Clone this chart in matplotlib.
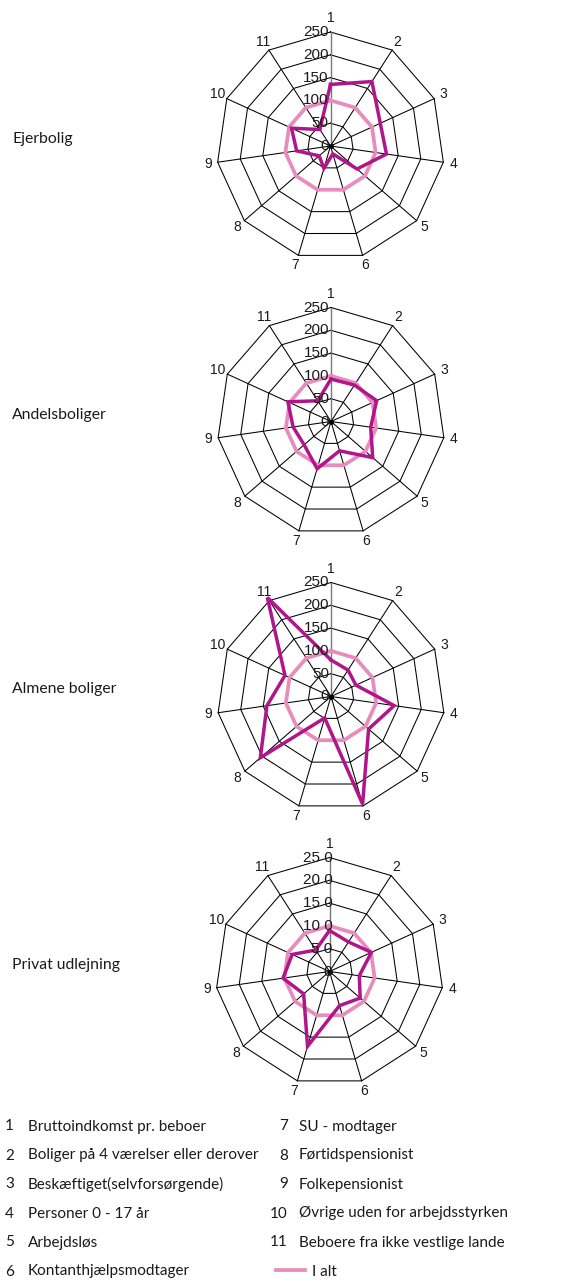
import numpy as np
import matplotlib
matplotlib.use("Agg")
import matplotlib.pyplot as plt
from matplotlib.lines import Line2D

# ---------------- data ----------------
axis_labels = ["1", "2", "3", "4", "5", "6", "7", "8", "9", "10", "11"]
housing_types = ["Ejerbolig", "Andelsboliger", "Almene boliger", "Privat udlejning"]

ejerbolig      = [135, 168, 120, 124, 77, 18, 51, 33, 75, 94, 43]
andelsboliger  = [93, 95, 110, 88, 121, 67, 108, 78, 84, 104, 54]
almene         = [80, 69, 60, 140, 109, 246, 49, 205, 142, 111, 258]
privat         = [90, 77, 101, 66, 89, 78, 171, 75, 103, 90, 56]
i_alt          = [100] * 11

series = [ejerbolig, andelsboliger, almene, privat]

rticks = [0, 50, 100, 150, 200, 250]
rtick_labels_std = ["0", "50", "100", "150", "200", "250"]
rtick_labels_alt = ["0", "5 0", "10 0", "15 0", "20 0", "25 0"]

legend_left = [("1", "Bruttoindkomst pr. beboer"),
               ("2", "Boliger på 4 værelser eller derover"),
               ("3", "Beskæftiget(selvforsørgende)"),
               ("4", "Personer 0 - 17 år"),
               ("5", "Arbejdsløs"),
               ("6", "Kontanthjælpsmodtager")]
legend_right = [("7", "SU - modtager"),
                ("8", "Førtidspensionist"),
                ("9", "Folkepensionist"),
                ("10", "Øvrige uden for arbejdsstyrken"),
                ("11", "Beboere fra ikke vestlige lande")]
total_label = "I alt"

# ---------------- style ----------------
W, H = 568, 1280
MAGENTA = "#B0168A"
PINK = "#E68DBE"
NUMFONT = ["Liberation Sans", "DejaVu Sans"]
TXTFONT = ["Lato", "DejaVu Sans"]
TXTSIZE = 11

fig = plt.figure(figsize=(W / 100, H / 100), dpi=100)

R_PX = 114.0
centers = [(330.5, 146.0), (331.0, 421.5), (331.0, 696.5), (329.5, 971.5)]

n = len(axis_labels)
theta = np.linspace(0, 2 * np.pi, n, endpoint=False)
theta_c = np.append(theta, theta[0])

for idx, (cx, cy) in enumerate(centers):
    ax = fig.add_axes([(cx - R_PX) / W, 1 - (cy + R_PX) / H, 2 * R_PX / W, 2 * R_PX / H],
                      projection="polar")
    ax.set_theta_zero_location("N")
    ax.set_theta_direction(-1)
    ax.set_ylim(0, 250)
    ax.grid(False)
    ax.set_xticks([])
    ax.set_yticks([])
    ax.spines["polar"].set_visible(False)
    ax.patch.set_alpha(0)

    # polygon grid
    for r in rticks[1:]:
        ax.plot(theta_c, [r] * (n + 1), color="black", lw=0.75, zorder=1, clip_on=False)
    for k, t in enumerate(theta):
        ax.plot([t, t], [0, 250], color="#777777" if k == 0 else "black",
                lw=1.0 if k == 0 else 0.75, zorder=1, clip_on=False)

    # data
    ax.plot(theta_c, i_alt + [i_alt[0]], color=PINK, lw=2.7, zorder=3,
            solid_joinstyle="miter", clip_on=False)
    vals = series[idx]
    ax.plot(theta_c, vals + [vals[0]], color=MAGENTA, lw=2.5, zorder=4,
            solid_joinstyle="miter", clip_on=False)
    ax.plot([0], [0], marker="o", ms=2.5, color="black", zorder=5)

    # axis numbers
    for k, t in enumerate(theta):
        rr = 280 if k == 0 else 272
        ax.text(t, rr, axis_labels[k], ha="center", va="center", fontsize=10,
                family=NUMFONT, color="#1a1a1a", clip_on=False)

    # radial tick labels
    labs = rtick_labels_alt if idx == 3 else rtick_labels_std
    dx = 2 if idx == 3 else -1.5
    for r, lab in zip(rticks, labs):
        ax.annotate(lab, xy=(0, r), xytext=(dx, 0), textcoords="offset points",
                    ha="right", va="center", fontsize=11, family=NUMFONT,
                    color="#1a1a1a", zorder=6, annotation_clip=False)

    # housing type label
    fig.text(12 / W, 1 - (cy - 7) / H, housing_types[idx], ha="left", va="center",
             fontsize=11.3, family=TXTFONT, color="#1a1a1a")

# ---------------- legend ----------------
row_y = [1126.5, 1155.5, 1184.5, 1213.5, 1242.5, 1271.5]
for (num, txt), y in zip(legend_left, row_y):
    fig.text(14 / W, 1 - y / H, num, ha="right", va="center", fontsize=TXTSIZE,
             family=TXTFONT, color="#1a1a1a")
    fig.text(28 / W, 1 - y / H, txt, ha="left", va="center", fontsize=TXTSIZE,
             family=TXTFONT, color="#1a1a1a")
for (num, txt), y in zip(legend_right, row_y):
    fig.text(288 / W, 1 - y / H, num, ha="right", va="center", fontsize=TXTSIZE,
             family=TXTFONT, color="#1a1a1a")
    fig.text(299 / W, 1 - y / H, txt, ha="left", va="center", fontsize=TXTSIZE,
             family=TXTFONT, color="#1a1a1a")

handle = Line2D([], [], color=PINK, lw=2.7)
leg = fig.legend([handle], [total_label], loc="center left",
                 bbox_to_anchor=(276 / W, 1 - row_y[5] / H), frameon=False,
                 handlelength=1.9, handletextpad=0.45, borderaxespad=0, borderpad=0,
                 prop={"family": TXTFONT, "size": TXTSIZE})
for t in leg.get_texts():
    t.set_color("#1a1a1a")

fig.savefig("out.png", dpi=100)
